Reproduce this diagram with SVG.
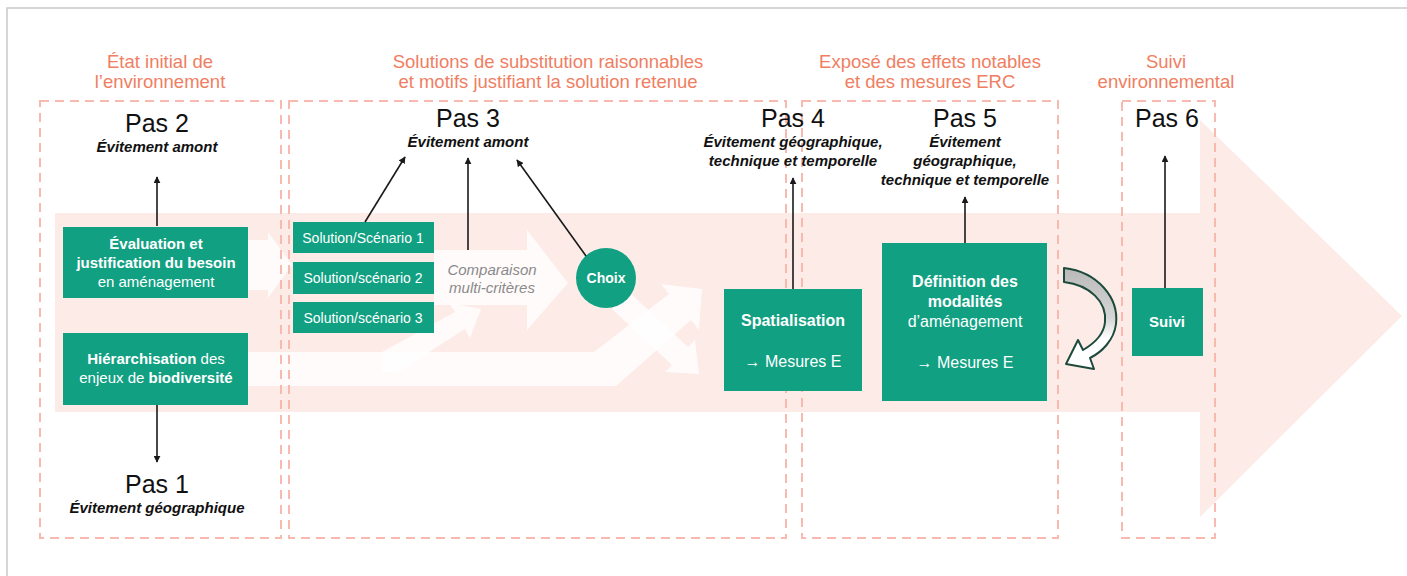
<svg xmlns="http://www.w3.org/2000/svg" width="1407" height="576" viewBox="0 0 1407 576">
<defs>
<style>
.frame{fill:none;stroke:#c9c9c9;stroke-width:1.5}
.band{fill:#fdebe8}
.warrow{fill:#ffffff;opacity:0.8}
.dash{fill:none;stroke:#f8b9ae;stroke-width:2;stroke-dasharray:9 6}
.title{font-family:"Liberation Sans",Arial,sans-serif;font-size:18.5px;fill:#f07e62;text-anchor:middle}
.pas{font-family:"Liberation Sans",Arial,sans-serif;font-size:25px;fill:#111;text-anchor:middle}
.sub{font-family:"Liberation Sans",Arial,sans-serif;font-size:15px;font-weight:bold;font-style:italic;fill:#111;text-anchor:middle}
.box{fill:#11a082}
.bt{font-family:"Liberation Sans",Arial,sans-serif;font-size:15px;fill:#fff;text-anchor:middle}
.b{font-weight:bold}
.st{font-family:"Liberation Sans",Arial,sans-serif;font-size:14px;fill:#fff;text-anchor:middle}
.cmp{font-family:"Liberation Sans",Arial,sans-serif;font-size:15px;font-style:italic;fill:#8a8a8a;text-anchor:middle}
.conn{stroke:#1a1a1a;stroke-width:1.6;fill:none;marker-end:url(#ah)}
</style>
<marker id="ah" viewBox="0 0 10 10" refX="9" refY="5" markerWidth="7" markerHeight="7" orient="auto" markerUnits="userSpaceOnUse">
<path d="M0,0 L10,5 L0,10 Z" fill="#1a1a1a"/>
</marker>
<linearGradient id="cg" x1="0" y1="0" x2="0" y2="1">
<stop offset="0" stop-color="#b9b9b9"/>
<stop offset="0.5" stop-color="#d6d6d6"/>
<stop offset="0.7" stop-color="#ffffff"/>
<stop offset="1" stop-color="#ffffff"/>
</linearGradient>
</defs>
<rect x="0" y="0" width="1407" height="576" fill="#ffffff"/>
<rect class="frame" x="7" y="8" width="1420" height="600"/>

<g id="background">
<polygon class="band" points="55,213 1200,213 1200,120 1402,316 1200,517 1200,412 55,412"/>
<polygon class="warrow" points="248,240 268,240 268,232 292,265 268,298 268,290 248,290"/>
<polygon class="warrow" points="434,250 527,250 527,230 568,283 527,330 527,305 434,305"/>
<polygon class="warrow" points="382,352 455,312 449,303 481,309 470,338 465,329 398,372 382,372"/>
<polygon class="warrow" points="248,352 594,352 669,294 661,284 702,289 699,330 691,320 616,386 248,386"/>
<polygon class="warrow" points="628,291 688,347 695,340 699,374 665,372 672,365 612,309"/>
</g>

<g id="sections">
<rect class="dash" x="40" y="101" width="241" height="437"/>
<rect class="dash" x="289" y="101" width="497" height="437"/>
<rect class="dash" x="802" y="101" width="256" height="437"/>
<rect class="dash" x="1122" y="101" width="93" height="437"/>
<text class="title" x="160" y="68">État initial de</text>
<text class="title" x="160" y="88">l’environnement</text>
<text class="title" x="548" y="68">Solutions de substitution raisonnables</text>
<text class="title" x="548" y="88">et motifs justifiant la solution retenue</text>
<text class="title" x="930" y="68">Exposé des effets notables</text>
<text class="title" x="930" y="88">et des mesures ERC</text>
<text class="title" x="1166" y="68">Suivi</text>
<text class="title" x="1166" y="88">environnemental</text>
</g>

<g id="pas2"><text class="pas" x="157" y="132">Pas 2</text><text class="sub" x="157" y="152">Évitement amont</text></g>
<g id="pas1"><text class="pas" x="157" y="493">Pas 1</text><text class="sub" x="157" y="513">Évitement géographique</text></g>
<g id="pas3"><text class="pas" x="468" y="127">Pas 3</text><text class="sub" x="468" y="147">Évitement amont</text></g>
<g id="pas4"><text class="pas" x="793" y="127">Pas 4</text><text class="sub" x="793" y="147">Évitement géographique,</text><text class="sub" x="793" y="166">technique et temporelle</text></g>
<g id="pas5"><text class="pas" x="965" y="127">Pas 5</text><text class="sub" x="965" y="147">Évitement</text><text class="sub" x="965" y="166">géographique,</text><text class="sub" x="965" y="185">technique et temporelle</text></g>
<g id="pas6"><text class="pas" x="1167" y="127">Pas 6</text></g>

<g id="evaluation">
<rect class="box" x="63" y="227" width="185" height="71"/>
<text class="bt b" x="156" y="249">Évaluation et</text>
<text class="bt b" x="156" y="268">justification du besoin</text>
<text class="bt" x="156" y="287">en aménagement</text>
</g>
<g id="hierarchisation">
<rect class="box" x="63" y="333" width="185" height="72"/>
<text class="bt" x="156" y="364"><tspan class="b">Hiérarchisation</tspan> des</text>
<text class="bt" x="156" y="383">enjeux de <tspan class="b">biodiversité</tspan></text>
</g>
<g id="solution1"><rect class="box" x="293" y="222" width="141" height="31"/><text class="st" x="363" y="243">Solution/Scénario 1</text></g>
<g id="solution2"><rect class="box" x="293" y="262" width="141" height="32"/><text class="st" x="363" y="283">Solution/scénario 2</text></g>
<g id="solution3"><rect class="box" x="293" y="302" width="141" height="31"/><text class="st" x="363" y="323">Solution/scénario 3</text></g>
<g id="comparaison"><text class="cmp" x="492" y="275">Comparaison</text><text class="cmp" x="492" y="293">multi-critères</text></g>
<g id="choix"><circle class="box" cx="606" cy="278" r="30"/><text class="st b" x="606" y="283">Choix</text></g>
<g id="spatialisation">
<rect class="box" x="724" y="289" width="138" height="102"/>
<text class="bt b" x="793" y="326" style="font-size:16px">Spatialisation</text>
<text class="bt" x="793" y="367" style="font-size:16px">→ Mesures E</text>
</g>
<g id="definition">
<rect class="box" x="882" y="243" width="165" height="158"/>
<text class="bt b" x="965" y="287" style="font-size:16px">Définition des</text>
<text class="bt b" x="965" y="307" style="font-size:16px">modalités</text>
<text class="bt" x="965" y="327" style="font-size:16px">d’aménagement</text>
<text class="bt" x="965" y="368" style="font-size:16px">→ Mesures E</text>
</g>
<g id="suivi"><rect class="box" x="1132" y="288" width="71" height="68"/><text class="bt b" x="1167" y="327">Suivi</text></g>

<g id="connectors">
<line class="conn" x1="157" y1="226" x2="157" y2="177"/>
<line class="conn" x1="157" y1="405" x2="157" y2="462"/>
<line class="conn" x1="365" y1="222" x2="405" y2="157"/>
<line class="conn" x1="468" y1="250" x2="468" y2="158"/>
<line class="conn" x1="586" y1="256" x2="517" y2="160"/>
<line class="conn" x1="793" y1="289" x2="793" y2="178"/>
<line class="conn" x1="965" y1="243" x2="965" y2="197"/>
<line class="conn" x1="1165" y1="288" x2="1165" y2="156"/>
<path d="M1064,268 C1098,272 1119,298 1116,324 C1114,340 1102,352 1090,358 L1094,369 L1066,364 L1078,340 L1083,350 C1095,343 1104,334 1105,322 C1107,302 1090,285 1064,282 Z" fill="url(#cg)" stroke="#1d4a3b" stroke-width="2" stroke-linejoin="round"/>
</g>
</svg>
